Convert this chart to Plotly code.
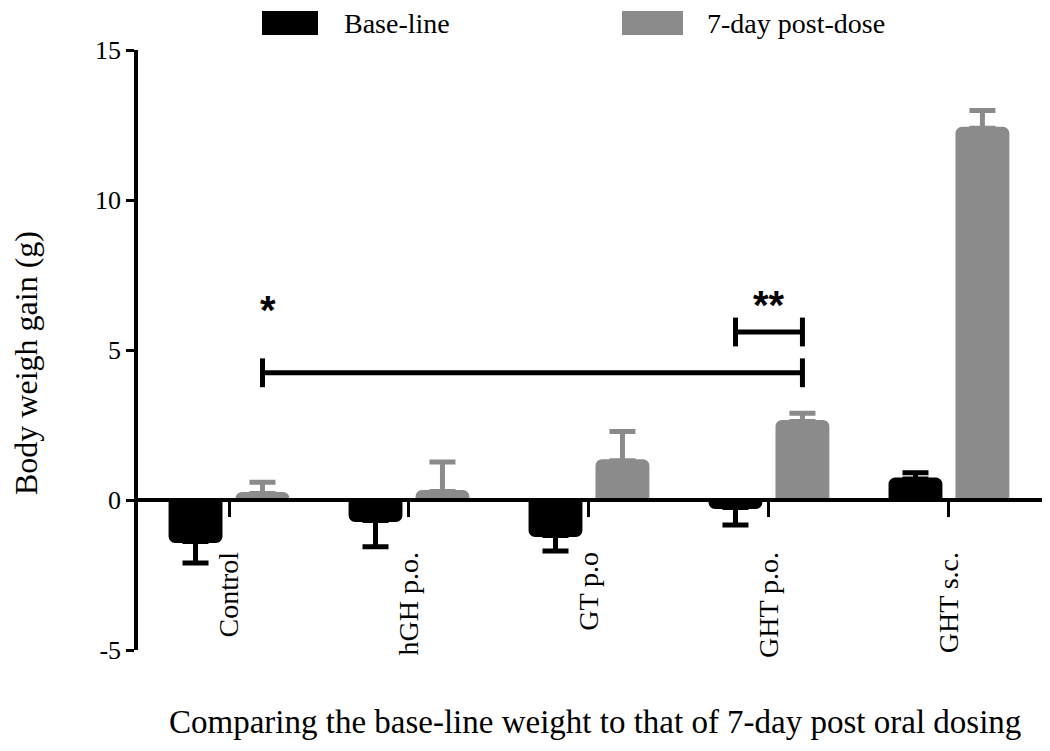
import plotly.graph_objects as go

# ---------------- data ----------------
categories = ["Control", "hGH p.o.", "GT p.o", "GHT p.o.", "GHT s.c."]
series_names = ["Base-line", "7-day post-dose"]
baseline = [-1.38, -0.68, -1.18, -0.25, 0.70]
baseline_err = [0.72, 0.88, 0.52, 0.58, 0.21]
postdose = [0.22, 0.28, 1.31, 2.62, 12.39]
postdose_err = [0.37, 0.99, 0.97, 0.27, 0.59]

# significance brackets
sig_from_cat = ["Control", "GHT p.o."]
sig_from_ser = [1, 0]
sig_to_cat = ["GHT p.o.", "GHT p.o."]
sig_to_ser = [1, 1]
sig_level = [4.24, 5.6]
sig_label = ["*", "**"]
sig_label_x = [0.217, 3.0]
sig_label_y = [6.35, 6.5]

y_ticks = [-5, 0, 5, 10, 15]
y_tick_labels = ["-5", "0", "5", "10", "15"]
y_range = [-5, 15]

# ---------------- style ----------------
colors = ["#000000", "#8b8b8b"]
serif = "Liberation Serif, Times New Roman, serif"
bargap = 0.256
bargroupgap = 0.24
cap_half = 0.48

idx = list(range(len(categories)))
fig = go.Figure()

for vals, errs, col, name in [(baseline, baseline_err, colors[0], series_names[0]),
                              (postdose, postdose_err, colors[1], series_names[1])]:
    fig.add_trace(go.Bar(
        x=idx, y=vals, name=name,
        marker=dict(color=col, line=dict(color=col, width=3)),
        error_y=dict(type="data", symmetric=False,
                     array=[e if v >= 0 else 0 for v, e in zip(vals, errs)],
                     arrayminus=[e if v < 0 else 0 for v, e in zip(vals, errs)],
                     color=col, thickness=5, width=13),
        showlegend=False,
    ))

offset = (1 - bargap) / 4
def bar_x(cat, ser):
    return categories.index(cat) + (-offset if ser == 0 else offset)

for fc, fs, tc, ts, lvl in zip(sig_from_cat, sig_from_ser, sig_to_cat, sig_to_ser, sig_level):
    a = bar_x(fc, fs)
    b = bar_x(tc, ts)
    fig.add_trace(go.Scatter(
        x=[a, a, None, a, b, None, b, b],
        y=[lvl - cap_half, lvl + cap_half, None, lvl, lvl, None, lvl - cap_half, lvl + cap_half],
        mode="lines", line=dict(color="black", width=5), showlegend=False,
        hoverinfo="skip",
    ))

for lx, ly, lt in zip(sig_label_x, sig_label_y, sig_label):
    fig.add_annotation(x=lx, y=ly, xref="x", yref="y", text="<b>" + lt + "</b>",
                       showarrow=False, font=dict(family="Liberation Sans, Arial", size=40, color="black"),
                       yanchor="middle", xanchor="center")

# ---------------- layout ----------------
# page body has an 8px margin, so the figure is drawn 8px right and down
PAGE_OFF = 8
W, H = 1040, 735
ml, mr, mt, mb = 130, 6, 42, 93
pw, ph = W - ml - mr, H - mt - mb

def px2paper_x(px):
    return (px - PAGE_OFF - ml) / pw

def px2paper_y(py):
    return (H - mb - (py - PAGE_OFF)) / ph

fig.update_layout(
    width=W, height=H,
    margin=dict(l=ml, r=mr, t=mt, b=mb, autoexpand=False),
    plot_bgcolor="white", paper_bgcolor="white",
    barmode="group", bargap=bargap, bargroupgap=bargroupgap,
    barcornerradius=5,
    showlegend=False,
    font=dict(family=serif, color="black"),
)

zero_pos = (0 - y_range[0]) / (y_range[1] - y_range[0])
fig.update_xaxes(
    type="linear", range=[-0.5056, 4.517],
    tickvals=idx, ticktext=categories, tickangle=-90,
    ticks="outside", ticklen=15, tickwidth=3, tickcolor="black",
    showline=True, linewidth=3.5, linecolor="black",
    anchor="free", position=zero_pos,
    showgrid=False, zeroline=False,
    tickfont=dict(family=serif, size=28, color="black"),
    ticklabelstandoff=24,
)
fig.update_yaxes(
    range=y_range, tickvals=y_ticks, ticktext=y_tick_labels,
    ticks="outside", ticklen=8, tickwidth=3, tickcolor="black",
    showline=True, linewidth=3.5, linecolor="black",
    showgrid=False, zeroline=False,
    tickfont=dict(family=serif, size=26, color="black"),
)

# axis titles
fig.add_annotation(text="Comparing the base-line weight to that of 7-day post oral dosing",
                   xref="paper", yref="paper", x=px2paper_x(595), y=px2paper_y(722),
                   showarrow=False, font=dict(family=serif, size=33, color="black"),
                   xanchor="center", yanchor="middle")
fig.add_annotation(text="Body weigh gain (g)", textangle=-90,
                   xref="paper", yref="paper", x=px2paper_x(26), y=px2paper_y(363),
                   showarrow=False, font=dict(family=serif, size=32, color="black"),
                   xanchor="center", yanchor="middle")

# custom legend
leg_boxes = [(262, 318), (622, 683)]
leg_text_x = [342, 705]
for (x0, x1), tx, name, col in zip(leg_boxes, leg_text_x, series_names, colors):
    fig.add_shape(type="rect", xref="paper", yref="paper",
                  x0=px2paper_x(x0 + 2), x1=px2paper_x(x1 - 2),
                  y0=px2paper_y(35 - 2), y1=px2paper_y(11 + 2),
                  fillcolor=col, line=dict(color=col, width=4))
    fig.add_annotation(text=name, xref="paper", yref="paper",
                       x=px2paper_x(tx), y=px2paper_y(23),
                       showarrow=False, font=dict(family=serif, size=28, color="black"),
                       xanchor="left", yanchor="middle")

fig.write_html("out.html")
